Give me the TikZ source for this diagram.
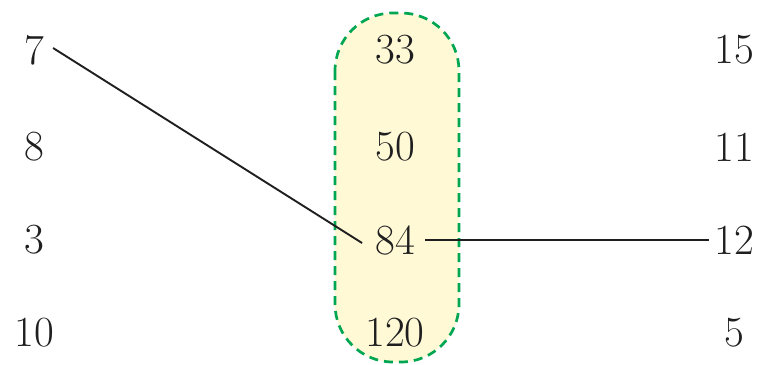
\documentclass[tikz,border=0pt]{standalone}
\usepackage{fontspec}
\definecolor{capgreen}{RGB}{0,166,81}
\definecolor{capfill}{RGB}{255,249,214}
\begin{document}
\begin{tikzpicture}[x=1pt,y=-1pt,
  num/.style={inner sep=6pt, font=\fontsize{43}{48}\selectfont, text=black!88},
  link/.style={line width=1.9pt, black!88}]
\useasboundingbox (0,0) rectangle (760,364);
% highlighted middle column
\draw[capgreen, line width=2.7pt, dash pattern=on 9pt off 6pt, fill=capfill, rounded corners=58pt]
  (335,13) rectangle (459,362);
% left column
\node[num] (a1) at (34,50) {7};
\node[num] (a2) at (34,147) {8};
\node[num] (a3) at (34,240) {3};
\node[num] (a4) at (34,333) {10};
% middle column
\node[num] (b1) at (395,50) {33};
\node[num] (b2) at (395,147) {50};
\node[num] (b3) at (395,240) {84};
\node[num] (b4) at (395,333) {120};
% right column
\node[num] (c1) at (734,50) {15};
\node[num] (c2) at (734,147) {11};
\node[num] (c3) at (734,240) {12};
\node[num] (c4) at (734,333) {5};
% connections
\draw[link] ([xshift=3pt,yshift=2pt]a1.east) -- ([xshift=-7pt,yshift=-3pt]b3.west);
\draw[link] ([xshift=4pt]b3.east) -- ([xshift=1pt]c3.west);
\end{tikzpicture}
\end{document}
